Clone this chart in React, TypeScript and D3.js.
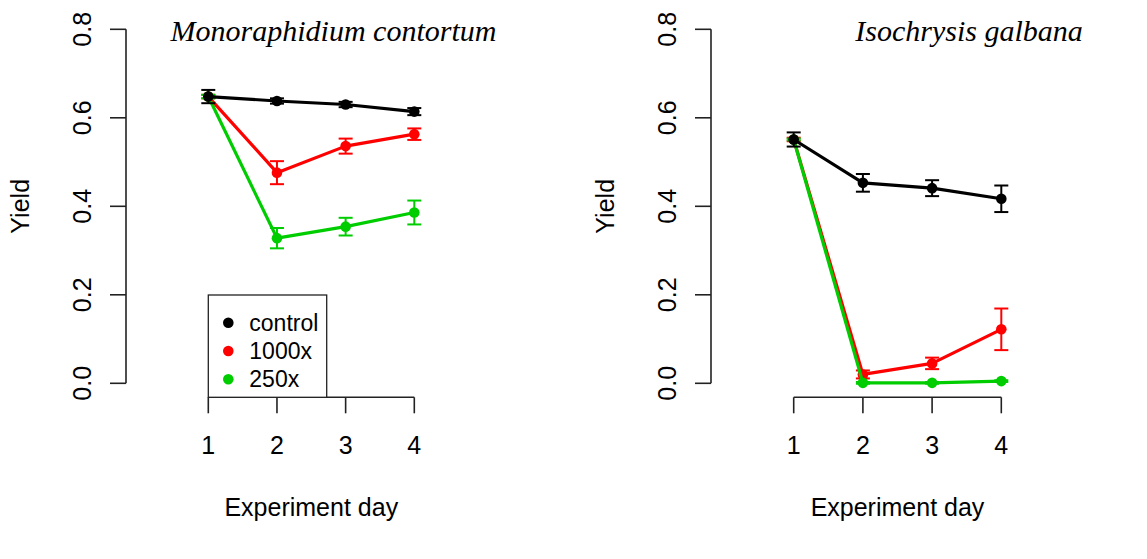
import React from 'react';
import * as d3 from 'd3';

// Experiment days and treatments
const days = [1, 2, 3, 4];
const treatments = ['control', '1000x', '250x'];
const colors = ['#000000', '#ff0000', '#00cd00'];
const yTicks = [0, 0.2, 0.4, 0.6, 0.8];

// Monoraphidium contortum: means and standard errors
const monoControl = [0.648, 0.638, 0.630, 0.614];
const monoControlErr = [0.015, 0.006, 0.006, 0.008];
const mono1000 = [0.648, 0.476, 0.536, 0.563];
const mono1000Err = [0.004, 0.026, 0.017, 0.013];
const mono250 = [0.648, 0.328, 0.354, 0.386];
const mono250Err = [0.004, 0.023, 0.02, 0.027];

// Isochrysis galbana: means and standard errors
const isoControl = [0.551, 0.453, 0.441, 0.417];
const isoControlErr = [0.016, 0.02, 0.018, 0.03];
const iso1000 = [0.551, 0.02, 0.045, 0.122];
const iso1000Err = [0.004, 0.009, 0.013, 0.047];
const iso250 = [0.551, 0.001, 0.001, 0.005];
const iso250Err = [0.002, 0.002, 0.002, 0.002];

type Series = { name: string; color: string; values: number[]; errs: number[] };

const panelSeries = (vals: number[][], errs: number[][]): Series[] =>
  treatments.map((name, i) => ({ name, color: colors[i], values: vals[i], errs: errs[i] }));

const panels = [
  {
    title: 'Monoraphidium contortum',
    titleX: 333.5,
    yAxisX: 126,
    xRange: [208.3, 414.3],
    legend: true,
    series: panelSeries([monoControl, mono1000, mono250], [monoControlErr, mono1000Err, mono250Err]),
  },
  {
    title: 'Isochrysis galbana',
    titleX: 969,
    yAxisX: 711,
    xRange: [793.7, 1001.3],
    legend: false,
    series: panelSeries([isoControl, iso1000, iso250], [isoControlErr, iso1000Err, iso250Err]),
  },
];

const sans = 'Arial, "Liberation Sans", Helvetica, sans-serif';
const serif = '"Times New Roman", "Liberation Serif", serif';

const Panel = ({ p }: { p: (typeof panels)[number] }) => {
  const x = d3.scaleLinear().domain([1, 4]).range(p.xRange);
  const y = d3.scaleLinear().domain([0, 0.8]).range([383.3, 29.3]);
  const xAxisY = 397.3;
  const line = d3.line<number>().x((_, i) => x(days[i])).y(d => y(d));
  // draw order: 1000x, 250x, then control on top
  const order = [1, 2, 0];
  const cap = 7;

  return (
    <g>
      <text x={p.titleX} y={40.5} textAnchor="middle" fontFamily={serif} fontStyle="italic" fontSize={30}>
        {p.title}
      </text>

      {/* y axis */}
      <line x1={p.yAxisX} x2={p.yAxisX} y1={y(0)} y2={y(0.8)} stroke="#222" strokeWidth={1.6} />
      {yTicks.map(t => (
        <g key={t}>
          <line x1={p.yAxisX - 16} x2={p.yAxisX} y1={y(t)} y2={y(t)} stroke="#222" strokeWidth={1.6} />
          <text
            transform={`translate(${p.yAxisX - 44},${y(t)}) rotate(-90)`}
            textAnchor="middle"
            dominantBaseline="central"
            fontFamily={sans}
            fontSize={25}
          >
            {t.toFixed(1)}
          </text>
        </g>
      ))}
      <text
        transform={`translate(${p.yAxisX - 106},${(y(0) + y(0.8)) / 2}) rotate(-90)`}
        textAnchor="middle"
        dominantBaseline="central"
        fontFamily={sans}
        fontSize={25}
      >
        Yield
      </text>

      {/* x axis */}
      <line x1={x(1)} x2={x(4)} y1={xAxisY} y2={xAxisY} stroke="#222" strokeWidth={1.6} />
      {days.map(d => (
        <g key={d}>
          <line x1={x(d)} x2={x(d)} y1={xAxisY} y2={xAxisY + 16} stroke="#222" strokeWidth={1.6} />
          <text x={x(d)} y={454} textAnchor="middle" fontFamily={sans} fontSize={25}>
            {d}
          </text>
        </g>
      ))}
      <text x={(x(1) + x(4)) / 2} y={516} textAnchor="middle" fontFamily={sans} fontSize={25}>
        Experiment day
      </text>

      {/* series */}
      {order.map(i => {
        const s = p.series[i];
        return (
          <g key={s.name}>
            <path d={line(s.values) ?? ''} fill="none" stroke={s.color} strokeWidth={3.2} strokeLinejoin="round" />
            {s.values.map((v, j) => {
              const cx = x(days[j]);
              const lo = y(v - s.errs[j]);
              const hi = y(v + s.errs[j]);
              return (
                <g key={j} stroke={s.color} strokeWidth={2}>
                  <line x1={cx} x2={cx} y1={lo} y2={hi} />
                  <line x1={cx - cap} x2={cx + cap} y1={lo} y2={lo} />
                  <line x1={cx - cap} x2={cx + cap} y1={hi} y2={hi} />
                  <circle cx={cx} cy={y(v)} r={5.3} fill={s.color} stroke="none" />
                </g>
              );
            })}
          </g>
        );
      })}

      {p.legend && (
        <g>
          <rect x={x(1)} y={295} width={118.4} height={xAxisY - 295} fill="white" stroke="#222" strokeWidth={1.3} />
          {p.series.map((s, i) => (
            <g key={s.name}>
              <circle cx={x(1) + 20} cy={322.7 + i * 28.3} r={5.3} fill={s.color} />
              <text x={x(1) + 41} y={322.7 + i * 28.3} dominantBaseline="central" fontFamily={sans} fontSize={23}>
                {s.name}
              </text>
            </g>
          ))}
        </g>
      )}
    </g>
  );
};

export default function App() {
  return (
    <svg
      width={1147}
      height={559}
      style={{ position: 'absolute', left: 0, top: 0, background: 'white' }}
    >
      <rect width={1147} height={559} fill="white" />
      {panels.map(p => (
        <Panel key={p.title} p={p} />
      ))}
    </svg>
  );
}
